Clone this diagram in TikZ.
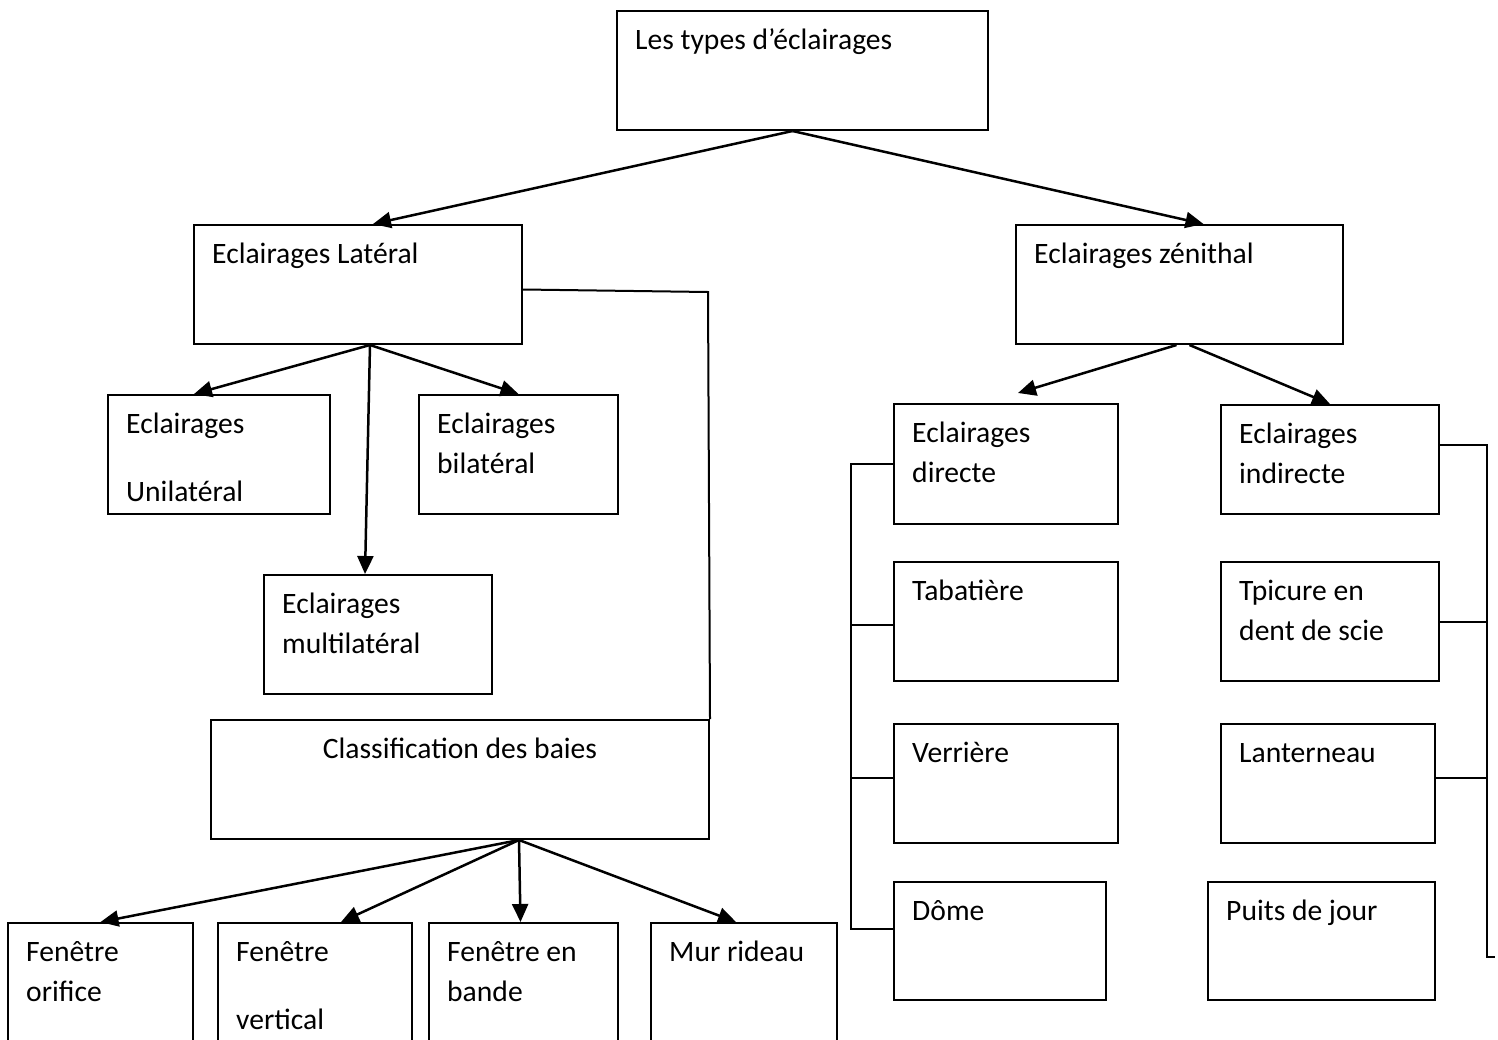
\documentclass[tikz,border=0pt]{standalone}
\usepackage{fontspec}
\setmainfont{Carlito}
\usetikzlibrary{positioning,arrows.meta}

\begin{document}
\begin{tikzpicture}[
  x=1pt, y=-1pt,
  every node/.style={font=\fontsize{29.6}{40}\selectfont},
  cell/.style 2 args={draw, line width=2pt, anchor=north west, inner sep=0pt,
    minimum width=#1pt, minimum height=#2pt},
  txtbase/.style={inner sep=0pt, align=left, execute at begin node=\strut},
  txt/.style={txtbase, anchor=north west, xshift=19pt, yshift=-11pt},
  ctxt/.style={txtbase, anchor=north, yshift=-11pt},
  flow/.style={-{Triangle[length=18pt,width=16pt]}, line width=2.5pt},
  link/.style={line width=2pt},
]
  \useasboundingbox (0,0) rectangle (1498,1039);

  % top of the tree
  \node[cell={371}{119}, label={[txt]north west:Les types d’éclairages}] (types) at (616,10) {};
  \node[cell={328}{119}, label={[txt]north west:Eclairages Latéral}] (lateral) at (193,224) {};
  \node[cell={327}{119}, label={[txt]north west:Eclairages zénithal}] (zenith) at (1015,224) {};

  % lateral branch
  \node[cell={222}{119}, label={[txt]north west:\strut Eclairages\\[28pt]Unilatéral}] (uni) at (107,394) {};
  \node[cell={199}{119}, label={[txt]north west:\strut Eclairages\\bilatéral}] (bi) at (418,394) {};
  \node[cell={228}{119}, label={[txt]north west:\strut Eclairages\\multilatéral}] (multi) at (263,574) {};
  \node[cell={498}{119}, label={[ctxt]north:Classification des baies}] (classif) at (210,719) {};
  \coordinate (lbend) at (708,292);

  % baies
  \node[cell={185}{130}, label={[txt]north west:\strut Fenêtre\\orifice}] (orifice) at (7,922) {};
  \node[cell={194}{130}, label={[txt]north west:\strut Fenêtre\\[28pt]vertical}] (vertical) at (217,922) {};
  \node[cell={189}{130}, label={[txt]north west:\strut Fenêtre en\\bande}] (bande) at (428,922) {};
  \node[cell={186}{130}, label={[txt]north west:Mur rideau}] (mur) at (650,922) {};

  % zenithal branch
  \node[cell={224}{120}, label={[txt]north west:\strut Eclairages\\directe}] (directe) at (893,403) {};
  \node[cell={224}{119}, below=36pt of directe.south west, anchor=north west,
    label={[txt]north west:Tabatière}] (tabatiere) {};
  \node[cell={224}{119}, below=41pt of tabatiere.south west, anchor=north west,
    label={[txt]north west:Verrière}] (verriere) {};
  \node[cell={212}{118}, below=37pt of verriere.south west, anchor=north west,
    label={[txt]north west:Dôme}] (dome) {};
  \coordinate (lspine) at (851,0);

  \node[cell={218}{109}, label={[txt]north west:\strut Eclairages\\indirecte}] (indirecte) at (1220,404) {};
  \node[cell={218}{119}, below=46pt of indirecte.south west, anchor=north west,
    label={[txt]north west:\strut Tpicure en\\dent de scie}] (tpicure) {};
  \node[cell={214}{119}, below=41pt of tpicure.south west, anchor=north west,
    label={[txt]north west:Lanterneau}] (lanterneau) {};
  \node[cell={227}{118}, below=37pt of lanterneau.south west, anchor=north west, xshift=-13pt,
    label={[txt]north west:Puits de jour}] (puits) {};
  \coordinate (rspine) at (1487,0);

  % arrows
  \draw[flow] ([xshift=-10pt]types.south) -- ([xshift=15pt]lateral.north);
  \draw[flow] ([xshift=-10pt]types.south) -- ([xshift=24pt]zenith.north);
  \draw[flow] ([xshift=12pt]lateral.south) -- ([xshift=-25pt]uni.north);
  \draw[flow] ([xshift=12pt]lateral.south) -- ([xshift=-13pt]multi.north);
  \draw[flow] ([xshift=12pt]lateral.south) -- (bi.north);
  \draw[flow] ([xshift=-3pt]zenith.south) -- ([shift={(12pt,10pt)}]directe.north);
  \draw[flow] ([xshift=10pt]zenith.south) -- (indirecte.north);
  \draw[flow] ([xshift=59pt]classif.south) -- (orifice.north);
  \draw[flow] ([xshift=59pt]classif.south) -- ([xshift=26pt]vertical.north);
  \draw[flow] ([xshift=59pt]classif.south) -- ([xshift=-3pt]bande.north);
  \draw[flow] ([xshift=59pt]classif.south) -- ([xshift=-8pt]mur.north);

  % plain links
  \draw[link] ([yshift=-5pt]lateral.east) -- (lbend) -- (classif.north east);
  \draw[link] (directe.west) -- (directe.west -| lspine) -- ([yshift=12pt]dome.west -| lspine) -- ([yshift=12pt]dome.west);
  \draw[link] ([yshift=-3pt]tabatiere.west) -- ([yshift=-3pt]tabatiere.west -| lspine);
  \draw[link] ([yshift=6pt]verriere.west) -- ([yshift=6pt]verriere.west -| lspine);
  \draw[link] ([yshift=15pt]indirecte.east) -- ([yshift=15pt]indirecte.east -| rspine) -- ([yshift=-16pt]puits.east -| rspine) -- ([shift={(59pt,-16pt)}]puits.east);
  \draw[link] (tpicure.east) -- (tpicure.east -| rspine);
  \draw[link] ([yshift=6pt]lanterneau.east) -- ([yshift=6pt]lanterneau.east -| rspine);
\end{tikzpicture}
\end{document}
